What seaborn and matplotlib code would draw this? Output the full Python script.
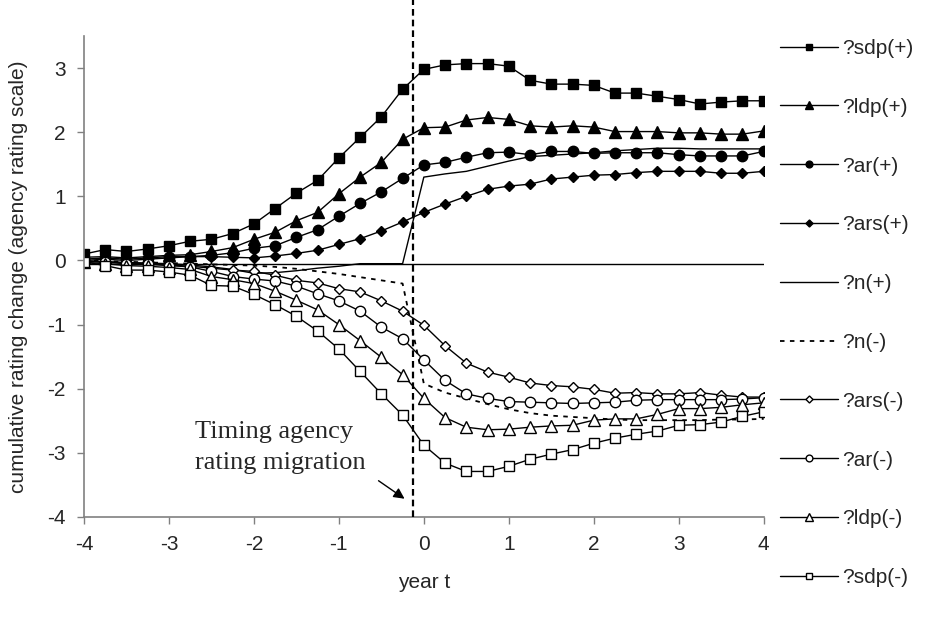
import matplotlib
matplotlib.use("Agg")
import matplotlib.pyplot as plt
import seaborn as sns
import numpy as np
import pandas as pd
from matplotlib.lines import Line2D

# quarterly event time, years relative to the rating migration
years = np.arange(-4, 4.01, 0.25)

sdp_pos = [0.10, 0.17, 0.14, 0.18, 0.23, 0.30, 0.33, 0.42, 0.57, 0.81, 1.05, 1.25, 1.60, 1.92, 2.24, 2.67, 2.98,
           3.05, 3.07, 3.07, 3.03, 2.81, 2.75, 2.75, 2.73, 2.61, 2.61, 2.56, 2.51, 2.44, 2.47, 2.49, 2.49]
ldp_pos = [0.05, 0.06, 0.04, 0.06, 0.08, 0.09, 0.14, 0.20, 0.33, 0.44, 0.62, 0.75, 1.04, 1.30, 1.53, 1.89, 2.07,
           2.08, 2.19, 2.23, 2.20, 2.10, 2.08, 2.10, 2.08, 2.01, 2.01, 2.01, 1.99, 1.99, 1.97, 1.97, 2.02]
ar_pos = [0.02, 0.04, 0.02, 0.04, 0.06, 0.06, 0.08, 0.12, 0.19, 0.23, 0.36, 0.48, 0.69, 0.89, 1.07, 1.28, 1.49,
          1.53, 1.61, 1.68, 1.69, 1.65, 1.70, 1.70, 1.67, 1.68, 1.68, 1.68, 1.65, 1.63, 1.63, 1.63, 1.70]
ars_pos = [0.00, 0.02, 0.00, 0.02, 0.04, 0.06, 0.06, 0.05, 0.04, 0.07, 0.11, 0.16, 0.25, 0.34, 0.46, 0.60, 0.75,
           0.88, 1.00, 1.11, 1.16, 1.19, 1.27, 1.30, 1.33, 1.34, 1.37, 1.39, 1.39, 1.39, 1.36, 1.36, 1.39]
n_pos = [-0.01, -0.02, -0.03, -0.04, -0.05, -0.07, -0.10, -0.14, -0.20, -0.19, -0.16, -0.12, -0.09, -0.05, -0.05, -0.05, 1.30,
         1.35, 1.39, 1.47, 1.55, 1.62, 1.64, 1.66, 1.68, 1.71, 1.73, 1.75, 1.75, 1.74, 1.74, 1.74, 1.74]
n_neg = [0.00, -0.01, -0.02, -0.03, -0.04, -0.05, -0.06, -0.07, -0.08, -0.10, -0.13, -0.17, -0.21, -0.26, -0.31, -0.36, -1.92,
         -2.06, -2.15, -2.24, -2.32, -2.38, -2.42, -2.44, -2.46, -2.48, -2.49, -2.49, -2.49, -2.49, -2.48, -2.48, -2.47]
ars_neg = [-0.01, -0.02, -0.04, -0.05, -0.07, -0.09, -0.12, -0.15, -0.17, -0.23, -0.31, -0.35, -0.44, -0.49, -0.63, -0.79, -1.01,
           -1.33, -1.60, -1.74, -1.82, -1.91, -1.95, -1.97, -2.01, -2.07, -2.06, -2.08, -2.08, -2.06, -2.10, -2.13, -2.13]
ar_neg = [-0.01, -0.03, -0.05, -0.06, -0.08, -0.10, -0.17, -0.25, -0.29, -0.32, -0.40, -0.52, -0.63, -0.79, -1.04, -1.22, -1.55,
          -1.87, -2.08, -2.15, -2.20, -2.21, -2.22, -2.23, -2.22, -2.21, -2.18, -2.17, -2.17, -2.17, -2.17, -2.16, -2.14]
ldp_neg = [-0.03, -0.05, -0.08, -0.09, -0.11, -0.14, -0.25, -0.30, -0.36, -0.48, -0.62, -0.77, -1.00, -1.25, -1.51, -1.78, -2.15,
           -2.45, -2.60, -2.64, -2.63, -2.60, -2.58, -2.57, -2.49, -2.47, -2.47, -2.40, -2.31, -2.31, -2.29, -2.25, -2.22]
sdp_neg = [-0.02, -0.08, -0.15, -0.15, -0.18, -0.23, -0.39, -0.40, -0.53, -0.69, -0.87, -1.10, -1.38, -1.73, -2.08, -2.41, -2.88,
           -3.16, -3.29, -3.29, -3.21, -3.10, -3.02, -2.95, -2.85, -2.77, -2.71, -2.66, -2.57, -2.56, -2.52, -2.43, -2.36]

labels = ["?sdp(+)", "?ldp(+)", "?ar(+)", "?ars(+)", "?n(+)",
          "?n(-)", "?ars(-)", "?ar(-)", "?ldp(-)", "?sdp(-)"]
series = [sdp_pos, ldp_pos, ar_pos, ars_pos, n_pos, n_neg, ars_neg, ar_neg, ldp_neg, sdp_neg]

baseline = -0.05      # flat reference line across the panel
migration_t = -0.13   # timing of the agency rating migration

# marker, size, face colour, line style
styles = [
    ("s", 7.5, "black", "-"),
    ("^", 8.0, "black", "-"),
    ("o", 7.5, "black", "-"),
    ("D", 5.5, "black", "-"),
    (None, 0, "black", "-"),
    (None, 0, "black", (0, (2.5, 3))),
    ("D", 5.5, "white", "-"),
    ("o", 7.5, "white", "-"),
    ("^", 8.0, "white", "-"),
    ("s", 7.5, "white", "-"),
]

sns.set_style("white")
plt.rcParams["font.family"] = ["Liberation Sans", "DejaVu Sans"]
plt.rcParams["axes.unicode_minus"] = False

fig = plt.figure(figsize=(9.26, 6.19), dpi=100)
ax = fig.add_axes([0.0907, 0.1648, 0.734, 0.777])

df = pd.DataFrame({"year": years})
for lab, vals in zip(labels, series):
    df[lab] = vals

ax.axhline(baseline, color="black", lw=1.0, zorder=1)

handles = []
for lab, (mk, ms, fc, ls) in zip(labels, styles):
    lw = 1.3 if ls != "-" else 1.0
    kw = dict(color="black", lw=lw, linestyle=ls)
    if mk is not None:
        kw.update(marker=mk, markersize=ms, markerfacecolor=fc,
                  markeredgecolor="black", markeredgewidth=1.0)
    sns.lineplot(data=df, x="year", y=lab, ax=ax, legend=False, **kw)
    hk = dict(color="black", lw=lw, linestyle=ls)
    if mk is not None:
        hk.update(marker=mk, markersize=ms * 0.65, markerfacecolor=fc,
                  markeredgecolor="black", markeredgewidth=1.0)
    handles.append(Line2D([], [], **hk))

# vertical dashed line marking the migration, running above the panel
ax.axvline(migration_t, ymin=0, ymax=1.075, color="black", lw=1.6,
           linestyle=(0, (3, 1.8)), clip_on=False, zorder=5)

ax.set_xlim(-4, 4)
ax.set_ylim(-4, 3.5)
ax.set_xticks(range(-4, 5))
ax.set_yticks(range(-4, 4))
ax.set_xlabel("year t", fontsize=15, labelpad=14)
ax.set_ylabel("cumulative rating change (agency rating scale)", fontsize=15, labelpad=14)
ax.tick_params(axis="both", labelsize=15, length=5, width=1, color="#808080",
               direction="out", pad=8)
ax.tick_params(axis="x", bottom=True)
ax.tick_params(axis="y", left=True)
for side in ["top", "right"]:
    ax.spines[side].set_visible(False)
for side in ["left", "bottom"]:
    ax.spines[side].set_color("#808080")
    ax.spines[side].set_linewidth(1.2)

ax.text(-2.69, -2.92, "Timing agency\nrating migration", family=["Liberation Serif", "DejaVu Serif"],
        fontsize=19, ha="left", va="center", linespacing=1.5)
ax.annotate("", xy=(-0.2, -3.74), xytext=(-0.56, -3.41),
            arrowprops=dict(arrowstyle="-|>", color="black", lw=1.0, mutation_scale=16))

fig.legend(handles, labels, loc="upper left", bbox_to_anchor=(0.842, 0.937),
           frameon=False, fontsize=15, handlelength=2.8, handletextpad=0.2,
           labelspacing=1.91, borderpad=0, borderaxespad=0)

fig.savefig("out.png", dpi=100)
